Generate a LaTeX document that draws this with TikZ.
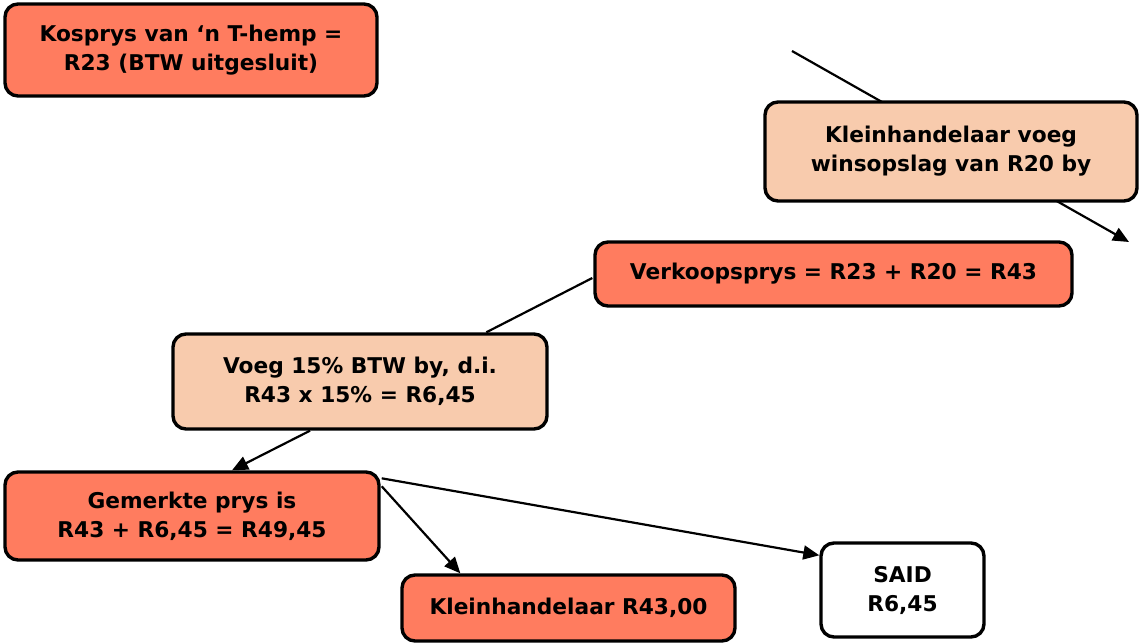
\documentclass[tikz,border=0pt]{standalone}
\usepackage{fontspec}
\setmainfont{DejaVu Sans}
\usetikzlibrary{arrows.meta,calc}
\definecolor{salmon}{HTML}{FF7C5F}
\definecolor{peach}{HTML}{F8CBAD}
\tikzset{
  box/.style={draw=black, line width=3.4pt, rounded corners=13pt, align=center,
    inner sep=0pt, font=\fontsize{21.7}{29}\selectfont\bfseries, text=black},
  dark/.style={box, fill=salmon},
  light/.style={box, fill=peach},
  plain/.style={box, fill=white},
  conn/.style={line width=2.2pt, draw=black},
  arr/.style={conn, -{Triangle[length=16pt,width=14pt]}},
}
\begin{document}
\begin{tikzpicture}[x=1pt,y=-1pt]
\useasboundingbox (0,0) rectangle (1142,643);
\coordinate (s) at (792,51);
\coordinate (e) at (1129,242);
\draw[arr] (s) -- (e);
\node[dark, minimum width=372, minimum height=92] (kos) at (191,50) {Kosprys van `n T-hemp =\\R23 (BTW uitgesluit)};
\node[light, minimum width=372, minimum height=99] (kv) at (951,151.5) {Kleinhandelaar voeg\\winsopslag van R20 by};
\node[dark, minimum width=477, minimum height=64] (verk) at (833.5,274) {Verkoopsprys = R23 + R20 = R43};
\node[light, minimum width=374, minimum height=95] (voeg) at (360,381.5) {Voeg 15\% BTW by, d.i.\\R43 x 15\% = R6,45};
\node[dark, minimum width=374, minimum height=88] (gem) at (192,516) {Gemerkte prys is\\R43 + R6,45 = R49,45};
\node[dark, minimum width=333, minimum height=66] (kr) at (568.5,608) {Kleinhandelaar R43,00};
\node[plain, minimum width=163, minimum height=94] (said) at (902.5,590) {SAID\\R6,45};
\draw[conn] ($(verk.west)+(-1,4)$) -- ($(voeg.north west)+(315,0)$);
\draw[arr] ($(voeg.south)+(-50,0)$) -- ($(gem.north)+(40,0)$);
\draw[arr] ($(gem.north east)+(1,16)$) -- ($(kr.north west)+(60,0)$);
\draw[arr] ($(gem.north east)+(1,8)$) -- ($(said.north west)+(0,14)$);
\end{tikzpicture}
\end{document}
